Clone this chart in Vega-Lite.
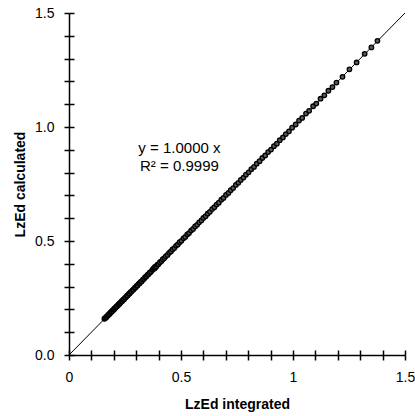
{
  "$schema": "https://vega.github.io/schema/vega-lite/v6.json",
  "width": 336,
  "height": 342,
  "autosize": {"type": "none"},
  "padding": {"left": 69, "top": 13, "right": 10, "bottom": 61},
  "background": "white",
  "config": {"view": {"stroke": null}, "font": "Liberation Sans"},
  "datasets": {
    "fit": [{"x": 0, "y": 0}, {"x": 1.5, "y": 1.5}],
    "notes": [
      {"x": 0.493, "y": 0.906, "label": "y = 1.0000 x"},
      {"x": 0.493, "y": 0.827, "label": "R² = 0.9999"}
    ],
    "pts": [
      {"x": 0.158, "y": 0.159}, {"x": 0.162, "y": 0.161}, {"x": 0.165, "y": 0.166}, {"x": 0.168, "y": 0.167},
      {"x": 0.171, "y": 0.172}, {"x": 0.174, "y": 0.173}, {"x": 0.177, "y": 0.178}, {"x": 0.181, "y": 0.18},
      {"x": 0.184, "y": 0.185}, {"x": 0.187, "y": 0.186}, {"x": 0.19, "y": 0.191}, {"x": 0.194, "y": 0.193},
      {"x": 0.197, "y": 0.198}, {"x": 0.201, "y": 0.2}, {"x": 0.204, "y": 0.205}, {"x": 0.208, "y": 0.207},
      {"x": 0.212, "y": 0.213}, {"x": 0.215, "y": 0.214}, {"x": 0.219, "y": 0.22}, {"x": 0.223, "y": 0.222},
      {"x": 0.226, "y": 0.227}, {"x": 0.23, "y": 0.229}, {"x": 0.234, "y": 0.235}, {"x": 0.238, "y": 0.237},
      {"x": 0.242, "y": 0.243}, {"x": 0.246, "y": 0.245}, {"x": 0.25, "y": 0.251}, {"x": 0.254, "y": 0.253},
      {"x": 0.258, "y": 0.259}, {"x": 0.262, "y": 0.261}, {"x": 0.267, "y": 0.268}, {"x": 0.271, "y": 0.27},
      {"x": 0.275, "y": 0.276}, {"x": 0.279, "y": 0.278}, {"x": 0.284, "y": 0.285}, {"x": 0.288, "y": 0.287},
      {"x": 0.293, "y": 0.294}, {"x": 0.297, "y": 0.296}, {"x": 0.302, "y": 0.303}, {"x": 0.306, "y": 0.305},
      {"x": 0.311, "y": 0.312}, {"x": 0.316, "y": 0.315}, {"x": 0.32, "y": 0.321}, {"x": 0.325, "y": 0.324},
      {"x": 0.33, "y": 0.331}, {"x": 0.335, "y": 0.334}, {"x": 0.34, "y": 0.341}, {"x": 0.345, "y": 0.344},
      {"x": 0.35, "y": 0.351}, {"x": 0.355, "y": 0.354}, {"x": 0.36, "y": 0.361}, {"x": 0.366, "y": 0.365},
      {"x": 0.372, "y": 0.373}, {"x": 0.376, "y": 0.377}, {"x": 0.379, "y": 0.381}, {"x": 0.381, "y": 0.379},
      {"x": 0.383, "y": 0.385}, {"x": 0.385, "y": 0.383}, {"x": 0.387, "y": 0.389}, {"x": 0.39, "y": 0.388},
      {"x": 0.395, "y": 0.396}, {"x": 0.4, "y": 0.399},
      {"x": 0.406, "y": 0.407}, {"x": 0.413, "y": 0.412}, {"x": 0.419, "y": 0.42}, {"x": 0.426, "y": 0.425},
      {"x": 0.432, "y": 0.433}, {"x": 0.44, "y": 0.439}, {"x": 0.447, "y": 0.448}, {"x": 0.455, "y": 0.454},
      {"x": 0.462, "y": 0.463}, {"x": 0.47, "y": 0.469}, {"x": 0.478, "y": 0.479}, {"x": 0.486, "y": 0.485},
      {"x": 0.494, "y": 0.495}, {"x": 0.502, "y": 0.501}, {"x": 0.511, "y": 0.512}, {"x": 0.519, "y": 0.518},
      {"x": 0.528, "y": 0.529}, {"x": 0.536, "y": 0.535}, {"x": 0.545, "y": 0.546}, {"x": 0.554, "y": 0.553},
      {"x": 0.563, "y": 0.564}, {"x": 0.572, "y": 0.571}, {"x": 0.581, "y": 0.582}, {"x": 0.591, "y": 0.59},
      {"x": 0.6, "y": 0.601}, {"x": 0.61, "y": 0.609}, {"x": 0.619, "y": 0.62}, {"x": 0.629, "y": 0.628},
      {"x": 0.639, "y": 0.64}, {"x": 0.649, "y": 0.648}, {"x": 0.659, "y": 0.66}, {"x": 0.669, "y": 0.668},
      {"x": 0.68, "y": 0.681}, {"x": 0.69, "y": 0.689}, {"x": 0.701, "y": 0.702}, {"x": 0.712, "y": 0.711},
      {"x": 0.722, "y": 0.723}, {"x": 0.733, "y": 0.732}, {"x": 0.745, "y": 0.746}, {"x": 0.756, "y": 0.755},
      {"x": 0.767, "y": 0.768}, {"x": 0.779, "y": 0.778}, {"x": 0.79, "y": 0.791}, {"x": 0.802, "y": 0.801},
      {"x": 0.814, "y": 0.815}, {"x": 0.826, "y": 0.825}, {"x": 0.838, "y": 0.839}, {"x": 0.851, "y": 0.85},
      {"x": 0.863, "y": 0.864}, {"x": 0.876, "y": 0.875}, {"x": 0.889, "y": 0.89}, {"x": 0.902, "y": 0.901},
      {"x": 0.915, "y": 0.916}, {"x": 0.928, "y": 0.927}, {"x": 0.941, "y": 0.942}, {"x": 0.955, "y": 0.954},
      {"x": 0.968, "y": 0.969}, {"x": 0.982, "y": 0.981}, {"x": 0.996, "y": 0.997},
      {"x": 1.012, "y": 1.011}, {"x": 1.027, "y": 1.028}, {"x": 1.041, "y": 1.04}, {"x": 1.058, "y": 1.059},
      {"x": 1.072, "y": 1.071}, {"x": 1.09, "y": 1.091}, {"x": 1.104, "y": 1.103}, {"x": 1.123, "y": 1.124},
      {"x": 1.14, "y": 1.139}, {"x": 1.158, "y": 1.159}, {"x": 1.176, "y": 1.175}, {"x": 1.194, "y": 1.195},
      {"x": 1.221, "y": 1.22}, {"x": 1.252, "y": 1.253}, {"x": 1.284, "y": 1.283}, {"x": 1.32, "y": 1.321},
      {"x": 1.35, "y": 1.349}, {"x": 1.377, "y": 1.378}
    ]
  },
  "layer": [
    {
      "data": {"name": "fit"},
      "mark": {"type": "line", "color": "black", "strokeWidth": 1},
      "encoding": {
        "x": {
          "field": "x", "type": "quantitative",
          "scale": {"domain": [0, 1.5], "nice": false},
          "axis": {
            "orient": "bottom",
            "values": [0, 0.1, 0.2, 0.3, 0.4, 0.5, 0.6, 0.7, 0.8, 0.9, 1, 1.1, 1.2, 1.3, 1.4, 1.5],
            "labelExpr": "(round(datum.value*10) % 5 == 0) ? format(datum.value, '') : ''",
            "grid": false, "domainColor": "black", "domainWidth": 1.5,
            "tickColor": "black", "tickWidth": 1.5, "tickSize": 5,
            "labelFontSize": 14, "labelColor": "black", "labelPadding": 10, "labelFlush": false,
            "title": "LzEd  integrated", "titleFontSize": 14, "titleFontWeight": "bold",
            "titleColor": "black", "titlePadding": 13
          }
        },
        "y": {
          "field": "y", "type": "quantitative",
          "scale": {"domain": [0, 1.5], "nice": false},
          "axis": {
            "orient": "left",
            "values": [0, 0.1, 0.2, 0.3, 0.4, 0.5, 0.6, 0.7, 0.8, 0.9, 1, 1.1, 1.2, 1.3, 1.4, 1.5],
            "labelExpr": "(round(datum.value*10) % 5 == 0) ? format(datum.value, '.1f') : ''",
            "grid": false, "domainColor": "black", "domainWidth": 1.5,
            "tickColor": "black", "tickWidth": 1.5, "tickSize": 5,
            "labelFontSize": 14, "labelColor": "black", "labelPadding": 10, "labelFlush": false,
            "title": "LzEd  calculated", "titleFontSize": 14, "titleFontWeight": "bold",
            "titleColor": "black", "titlePadding": 7
          }
        }
      }
    },
    {
      "data": {"name": "pts"},
      "mark": {"type": "point", "shape": "circle", "filled": false, "stroke": "black", "fill": "#5a5a5a", "fillOpacity": 1, "strokeWidth": 1.3, "size": 20},
      "encoding": {
        "x": {
          "field": "x", "type": "quantitative",
          "scale": {"domain": [0, 1.5], "nice": false},
          "axis": {
            "orient": "bottom",
            "values": [0, 0.1, 0.2, 0.3, 0.4, 0.5, 0.6, 0.7, 0.8, 0.9, 1, 1.1, 1.2, 1.3, 1.4, 1.5],
            "labels": false, "domain": false, "grid": false, "title": null,
            "tickColor": "black", "tickWidth": 1.5, "tickSize": -5
          }
        },
        "y": {
          "field": "y", "type": "quantitative",
          "scale": {"domain": [0, 1.5], "nice": false},
          "axis": {
            "orient": "left",
            "values": [0, 0.1, 0.2, 0.3, 0.4, 0.5, 0.6, 0.7, 0.8, 0.9, 1, 1.1, 1.2, 1.3, 1.4, 1.5],
            "labels": false, "domain": false, "grid": false, "title": null,
            "tickColor": "black", "tickWidth": 1.5, "tickSize": -5
          }
        }
      }
    },
    {
      "data": {"name": "notes"},
      "mark": {"type": "text", "fontSize": 15, "color": "black", "align": "center", "baseline": "middle"},
      "encoding": {
        "x": {"field": "x", "type": "quantitative", "scale": {"domain": [0, 1.5], "nice": false}, "axis": null},
        "y": {"field": "y", "type": "quantitative", "scale": {"domain": [0, 1.5], "nice": false}, "axis": null},
        "text": {"field": "label"}
      }
    }
  ],
  "resolve": {"axis": {"x": "independent", "y": "independent"}}
}
